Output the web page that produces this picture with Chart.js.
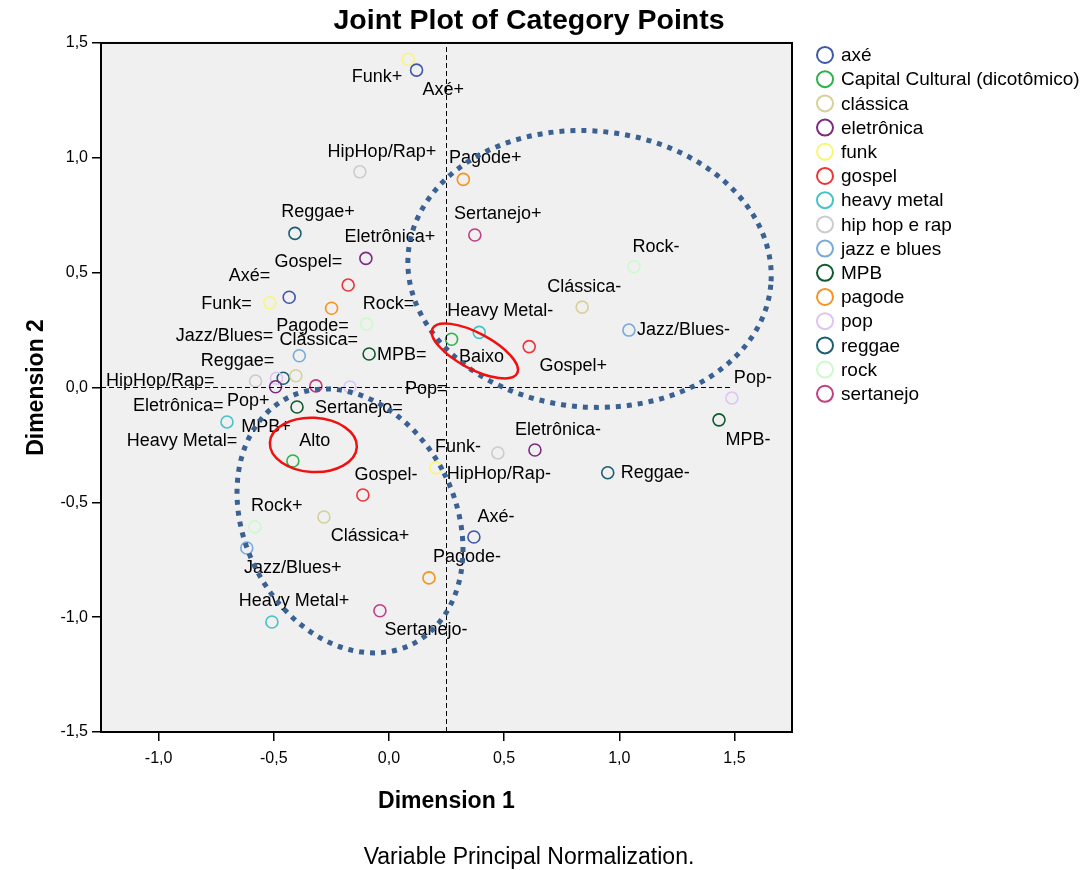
<!DOCTYPE html>
<html>
<head>
<meta charset="utf-8">
<title>Joint Plot of Category Points</title>
<script src="https://cdn.jsdelivr.net/npm/chart.js@4.4.1/dist/chart.umd.min.js"></script>
<style>
  body { margin: 0; background: #fff; }
  #wrap { width: 1089px; height: 870px; }
</style>
</head>
<body>
<div id="wrap"><canvas id="jointPlot" width="1089" height="870"></canvas></div>
<script>
// Variables shown in the legend
const categories = ['axé', 'Capital Cultural (dicotômico)', 'clássica', 'eletrônica', 'funk', 'gospel',
  'heavy metal', 'hip hop e rap', 'jazz e blues', 'MPB', 'pagode', 'pop', 'reggae', 'rock', 'sertanejo'];

// Category point labels, one list per variable
const pointLabels = [
  ['Axé+', 'Axé=', 'Axé-'],
  ['Alto', 'Baixo'],
  ['Clássica=', 'Clássica+', 'Clássica-'],
  ['Eletrônica+', 'Eletrônica=', 'Eletrônica-'],
  ['Funk+', 'Funk=', 'Funk-'],
  ['Gospel=', 'Gospel-', 'Gospel+'],
  ['Heavy Metal=', 'Heavy Metal-', 'Heavy Metal+'],
  ['HipHop/Rap+', 'HipHop/Rap=', 'HipHop/Rap-'],
  ['Jazz/Blues=', 'Jazz/Blues-', 'Jazz/Blues+'],
  ['MPB=', 'MPB+', 'MPB-'],
  ['Pagode+', 'Pagode=', 'Pagode-'],
  ['Pop+', 'Pop=', 'Pop-'],
  ['Reggae+', 'Reggae=', 'Reggae-'],
  ['Rock=', 'Rock-', 'Rock+'],
  ['Sertanejo+', 'Sertanejo=', 'Sertanejo-']
];

// Dimension 1 scores
const dim1 = [
  [0.120, -0.433, 0.369],
  [-0.417, 0.272],
  [-0.404, -0.282, 0.839],
  [-0.100, -0.492, 0.634],
  [0.084, -0.517, 0.204],
  [-0.177, -0.113, 0.609],
  [-0.703, 0.392, -0.508],
  [-0.126, -0.579, 0.473],
  [-0.389, 1.042, -0.617],
  [-0.086, -0.399, 1.433],
  [0.323, -0.249, 0.174],
  [-0.488, -0.169, 1.489],
  [-0.408, -0.459, 0.950],
  [-0.097, 1.064, -0.582],
  [0.373, -0.317, -0.039]
];

// Dimension 2 scores
const dim2 = [
  [1.382, 0.393, -0.651],
  [-0.320, 0.210],
  [0.051, -0.564, 0.350],
  [0.562, 0.003, -0.272],
  [1.429, 0.369, -0.350],
  [0.446, -0.468, 0.178],
  [-0.150, 0.240, -1.021],
  [0.939, 0.028, -0.285],
  [0.138, 0.250, -0.699],
  [0.146, -0.085, -0.141],
  [0.906, 0.345, -0.829],
  [0.040, 0.002, -0.046],
  [0.671, 0.040, -0.371],
  [0.276, 0.526, -0.607],
  [0.664, 0.007, -0.972]
];

const xTickValues = [-1.0, -0.5, 0.0, 0.5, 1.0, 1.5];
const yTickValues = [-1.5, -1.0, -0.5, 0.0, 0.5, 1.0, 1.5];

// Dashed reference lines (data units)
const refLineX = 0.25;
const refLineY = 0;
const refLineYEnd = 1.49;

const colors = ['#3F57A8', '#2DB34A', '#D6D09B', '#7D2A80', '#F9F578', '#EE3339', '#45C3C8', '#CCCCCC',
  '#79A9DB', '#0E5A2E', '#F5951F', '#DEC4F2', '#1C5E73', '#CDFACB', '#C03E81'];

// Label placement: [align, dx, dy] in pixels from the point
const labelPos = {
  'Funk+': ['right', -6, 18], 'Axé+': ['left', 6, 20], 'HipHop/Rap+': ['center', 22, -20],
  'Pagode+': ['center', 22, -21], 'Reggae+': ['center', 23, -21], 'Sertanejo+': ['center', 23, -21],
  'Eletrônica+': ['center', 24, -21], 'Rock-': ['center', 22, -20], 'Gospel=': ['right', -6, -23],
  'Axé=': ['right', -19, -21], 'Funk=': ['right', -18, 1], 'Rock=': ['center', 22, -20],
  'Clássica-': ['center', 2, -20], 'Heavy Metal-': ['center', 21, -21], 'Jazz/Blues-': ['left', 8, 0],
  'Pagode=': ['center', -19, 18], 'Jazz/Blues=': ['right', -26, -20], 'Clássica=': ['center', 23, -36],
  'MPB=': ['left', 8, 1], 'Baixo': ['center', 30, 18], 'Gospel+': ['center', 44, 19],
  'Reggae=': ['right', -9, -17], 'HipHop/Rap=': ['right', -41, 0], 'Pop=': ['left', 55, 2],
  'Pop-': ['center', 21, -20], 'Eletrônica=': ['right', -52, 19], 'Pop+': ['right', -7, 23],
  'Sertanejo=': ['center', 43, 22], 'MPB+': ['center', -31, 20], 'Alto': ['center', 22, -20],
  'Heavy Metal=': ['center', -45, 19], 'Eletrônica-': ['center', 23, -20], 'Funk-': ['center', 22, -21],
  'HipHop/Rap-': ['center', 1, 21], 'Reggae-': ['left', 13, 0], 'Axé-': ['center', 22, -20],
  'Pagode-': ['center', 38, -21], 'MPB-': ['center', 29, 20], 'Gospel-': ['center', 23, -20],
  'Rock+': ['center', 22, -21], 'Clássica+': ['center', 46, 19], 'Jazz/Blues+': ['center', 46, 20],
  'Heavy Metal+': ['center', 22, -21], 'Sertanejo-': ['center', 46, 19]
};

// Hand-drawn highlight ellipses (centre and radii in data units, angle in degrees)
const ellipses = [
  { cx: 0.871, cy: 0.516, rx: 0.790, ry: 0.601, angle: 5, color: '#3A6192', width: 5, dash: [5, 6] },
  { cx: -0.169, cy: -0.581, rx: 0.458, ry: 0.601, angle: -27, color: '#3A6192', width: 5, dash: [5, 6] },
  { cx: -0.328, cy: -0.250, rx: 0.189, ry: 0.118, angle: 3, color: '#F01010', width: 2.5, dash: [] },
  { cx: 0.373, cy: 0.159, rx: 0.208, ry: 0.078, angle: 28, color: '#F01010', width: 2.5, dash: [] }
];

const FONT = "'Liberation Sans', Arial, sans-serif";
Chart.defaults.font.family = FONT;
Chart.defaults.color = '#000';

const fmt = v => v.toFixed(1).replace('.', ',');

const pointSets = categories.map((name, i) => ({
  label: name,
  data: dim1[i].map((x, j) => ({ x: x, y: dim2[i][j], name: pointLabels[i][j] })),
  borderColor: colors[i],
  backgroundColor: 'rgba(0,0,0,0)',
  pointRadius: 6,
  pointBorderWidth: 1.6,
  pointStyle: 'circle'
}));

const refSets = [
  { label: 'refX', data: [{ x: refLineX, y: -1.5 }, { x: refLineX, y: 1.5 }] },
  { label: 'refY', data: [{ x: -1.25, y: refLineY }, { x: refLineYEnd, y: refLineY }] }
].map(d => Object.assign(d, {
  showLine: true, borderColor: '#000', borderWidth: 1, borderDash: [5, 3], pointRadius: 0, isRef: true
}));

const frameAndNotes = {
  id: 'frameAndNotes',
  beforeDraw(chart) {
    const { ctx, chartArea: a } = chart;
    ctx.save();
    ctx.fillStyle = '#F0F0F0';
    ctx.fillRect(a.left, a.top, a.right - a.left, a.bottom - a.top);
    ctx.restore();
  },
  afterDatasetsDraw(chart) {
    const { ctx } = chart;
    const xs = chart.scales.x, ys = chart.scales.y;
    ctx.save();
    // point labels
    ctx.font = '18px ' + FONT;
    ctx.fillStyle = '#000';
    ctx.textBaseline = 'middle';
    chart.data.datasets.forEach((ds, i) => {
      if (ds.isRef) return;
      chart.getDatasetMeta(i).data.forEach((pt, j) => {
        const name = ds.data[j].name;
        const p = labelPos[name] || ['center', 20, -20];
        ctx.textAlign = p[0];
        ctx.fillText(name, pt.x + p[1], pt.y + p[2]);
      });
    });
    // highlight ellipses
    ellipses.forEach(e => {
      const cx = xs.getPixelForValue(e.cx), cy = ys.getPixelForValue(e.cy);
      const rx = Math.abs(xs.getPixelForValue(e.cx + e.rx) - cx);
      const ry = Math.abs(ys.getPixelForValue(e.cy + e.ry) - cy);
      ctx.strokeStyle = e.color;
      ctx.lineWidth = e.width;
      ctx.setLineDash(e.dash);
      ctx.beginPath();
      ctx.ellipse(cx, cy, rx, ry, e.angle * Math.PI / 180, 0, Math.PI * 2);
      ctx.stroke();
    });
    ctx.restore();
  },
  afterDraw(chart) {
    const { ctx, chartArea: a } = chart;
    ctx.save();
    ctx.strokeStyle = '#000';
    ctx.lineWidth = 2;
    ctx.strokeRect(a.left, a.top, a.right - a.left, a.bottom - a.top);
    // legend in the reserved right-hand space
    const space = chart.scales.legendSpace;
    const lx = space.left + 33;
    ctx.font = '19px ' + FONT;
    ctx.textBaseline = 'middle';
    ctx.textAlign = 'left';
    ctx.lineWidth = 2;
    categories.forEach((name, i) => {
      const ly = a.top + 12 + i * 24.2;
      ctx.strokeStyle = colors[i];
      ctx.beginPath();
      ctx.arc(lx, ly, 8, 0, Math.PI * 2);
      ctx.stroke();
      ctx.fillStyle = '#000';
      ctx.fillText(name, lx + 16, ly + 1);
    });
    ctx.restore();
  }
};

new Chart(document.getElementById('jointPlot'), {
  type: 'scatter',
  data: { datasets: refSets.concat(pointSets) },
  options: {
    responsive: false,
    animation: false,
    layout: { padding: { left: 0, right: 31, top: 0, bottom: 0 } },
    scales: {
      x: {
        type: 'linear', position: 'bottom', min: -1.25, max: 1.75,
        afterBuildTicks: s => { s.ticks = xTickValues.map(v => ({ value: v })); },
        afterFit: s => { s.height = 113.85; },
        ticks: { callback: v => fmt(v), font: { size: 16 }, padding: 8, maxRotation: 0 },
        grid: { drawOnChartArea: false, color: '#000', lineWidth: 1.5, tickLength: 9 },
        border: { display: true, color: '#000', width: 2 },
        title: { display: true, text: 'Dimension 1', font: { size: 23, weight: 'bold' }, padding: { top: 0, bottom: 30 } }
      },
      y: {
        type: 'linear', position: 'left', min: -1.5, max: 1.5,
        afterBuildTicks: s => { s.ticks = yTickValues.map(v => ({ value: v })); },
        afterFit: s => { s.width = 101; },
        ticks: { callback: v => fmt(v), font: { size: 16 }, padding: 4 },
        grid: { drawOnChartArea: false, color: '#000', lineWidth: 1.5, tickLength: 9 },
        border: { display: true, color: '#000', width: 2 },
        title: { display: true, text: 'Dimension 2', font: { size: 23, weight: 'bold' }, padding: { top: 23, bottom: 0 } }
      },
      legendSpace: {
        type: 'linear', position: 'right', display: true,
        afterFit: s => { s.width = 266; },
        ticks: { display: false },
        grid: { display: false, drawTicks: false },
        border: { display: false }
      }
    },
    plugins: {
      legend: { display: false },
      tooltip: { enabled: false },
      title: {
        display: true, text: 'Joint Plot of Category Points', color: '#000',
        font: { size: 28.5, weight: 'bold', lineHeight: 1.15 }, padding: { top: 4.6, bottom: 5.6 }
      },
      subtitle: {
        display: true, position: 'bottom', text: 'Variable Principal Normalization.', color: '#000',
        font: { size: 23, lineHeight: 1.05 }, padding: { top: 0, bottom: 0 }
      }
    }
  },
  plugins: [frameAndNotes]
});
</script>
</body>
</html>
